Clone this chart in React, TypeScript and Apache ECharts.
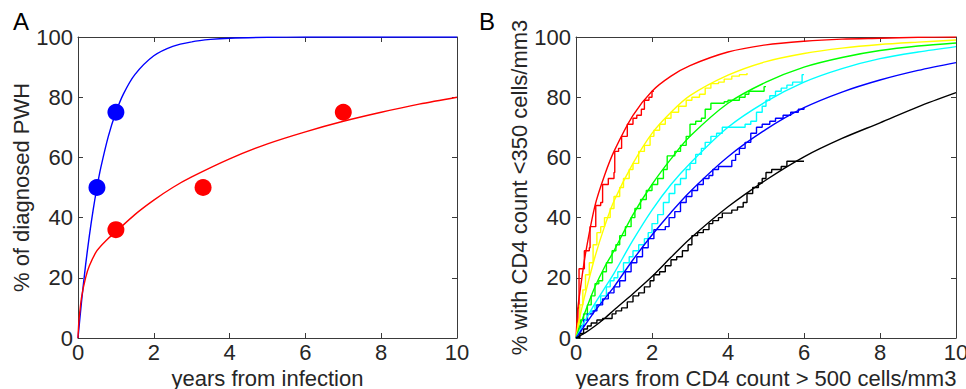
import React, { useEffect, useRef } from "react";
import * as echarts from "echarts";

// ---------- Panel A data ----------
const aBlueX = [0, 0.1, 0.2, 0.3, 0.4, 0.5, 0.6, 0.8, 1.0, 1.2, 1.5, 2, 2.5, 3, 3.5, 4, 5, 6, 8, 10];
const aBlueY = [0, 12.9, 24.2, 34.0, 42.6, 50, 56.5, 67.0, 75, 81.1, 87.5, 93.75, 96.9, 98.4, 99.2, 99.6, 99.9, 100, 100, 100];
const aRedX = [0, 0.02, 0.05, 0.1, 0.2, 0.3, 0.5, 0.75, 1, 1.5, 2, 2.5, 3, 4, 5, 6, 7, 8, 9, 10];
const aRedY = [0, 5, 9, 14, 20, 24, 29, 32.5, 35.3, 41, 45.8, 50, 53.5, 59.5, 64.5, 68.5, 72, 75, 77.7, 80];
const aBluePts: [number, number][] = [[0.5, 50], [1, 75]];
const aRedPts: [number, number][] = [[1, 36], [3.3, 50], [7, 75]];

// ---------- Panel B data ----------
const bX = [0, 0.05, 0.1, 0.25, 0.5, 0.75, 1, 1.5, 2, 2.5, 3, 4, 5, 6, 7, 8, 9, 10];
const bRed = [0, 10, 15, 28, 44, 54, 62, 74, 82, 87, 90.5, 95, 97.4, 98.6, 99.3, 99.6, 99.9, 100];
const bYellow = [0, 4, 7, 15, 27, 37, 45.5, 58, 68, 75, 80.5, 87.3, 91.8, 94.5, 96.3, 97.5, 98.3, 99];
const bGreen = [0, 2, 4, 9, 17, 23.5, 29, 41, 51, 59.5, 67, 78, 85, 90, 93.2, 95.5, 97, 98];
const bCyan = [0, 1.2, 2.5, 6, 11.5, 16.5, 21.5, 32.5, 42.5, 51, 58, 70, 78.5, 85, 89.5, 92.8, 95, 96.8];
const bBlue = [0, 0.9, 1.8, 4.5, 9, 13, 17, 26, 34.2, 41.7, 48.6, 60.2, 69.3, 76.5, 81.7, 85.7, 88.9, 91.5];
const bBlack = [0, 0.3, 0.7, 1.8, 4, 6.5, 9.3, 14.7, 20.4, 26.8, 33, 43.6, 52.5, 60.2, 66.3, 71.5, 76.8, 81.5];

const stepRed: [number, number][] = [[0,0],[0.05,10],[0.08,23],[0.2,23],[0.22,29],[0.35,30],[0.37,37],[0.5,37],[0.52,44],[0.65,45],[0.7,51],[0.85,53],[1.0,55],[1.02,62],[1.12,63],[1.2,67],[1.35,71],[1.5,73],[1.6,74],[1.72,76],[1.8,79],[1.92,80],[2.0,82],[2.05,82]];
const stepYellow: [number, number][] = [[0,0],[0.05,5],[0.1,11],[0.18,16],[0.25,21],[0.35,25],[0.45,31],[0.55,35],[0.65,37],[0.75,40],[0.9,43],[1.0,47],[1.15,50],[1.25,53],[1.4,56],[1.5,58],[1.65,62],[1.8,64],[1.95,67],[2.05,69],[2.2,71],[2.35,73],[2.5,75],[2.7,77],[2.9,79],[3.05,80],[3.25,81],[3.4,83],[3.55,84.5],[3.75,85],[3.9,86],[4.1,87],[4.3,87.5],[4.5,88]];
const stepGreen: [number, number][] = [[0,0],[0.05,3],[0.12,6],[0.2,8],[0.3,11],[0.4,14],[0.5,18],[0.6,19],[0.7,22],[0.8,25],[0.95,29],[1.05,31],[1.15,34],[1.3,37],[1.45,40],[1.55,43],[1.7,46],[1.85,49],[2.0,51],[2.15,53],[2.3,56],[2.4,60.5],[2.6,62],[2.75,64],[2.9,67],[3.0,71],[3.15,72],[3.3,73],[3.4,76],[3.55,78],[3.9,78.5],[4.0,79],[4.3,80],[4.45,81],[4.55,82],[4.95,83.5],[5.0,83.5]];
const stepCyan: [number, number][] = [[0,0],[0.05,2],[0.12,4],[0.2,6],[0.3,8],[0.4,9],[0.5,11],[0.65,14],[0.8,17],[0.9,19],[1.0,20],[1.1,22],[1.25,25],[1.4,27],[1.5,29],[1.65,31],[1.8,33],[1.9,35],[2.0,38],[2.15,41],[2.3,45],[2.45,48],[2.6,51],[2.75,53],[2.9,56],[3.0,58],[3.15,61],[3.3,63],[3.4,65],[3.55,67],[3.7,68],[3.85,70],[4.45,71],[4.6,72],[4.75,75],[4.9,77],[5.0,79],[5.1,80.5],[5.25,82],[5.4,83],[5.55,84],[5.7,85],[5.95,87.5],[6.0,87.5]];
const stepBlue: [number, number][] = [[0,0],[0.05,2],[0.12,4],[0.2,6],[0.3,8],[0.45,9],[0.55,11],[0.7,13],[0.85,15],[1.0,17],[1.15,19],[1.3,22],[1.45,25],[1.6,27],[1.75,30],[1.9,33],[2.05,36],[2.35,37],[2.45,40],[2.6,42],[2.75,45],[2.9,47],[3.05,49],[3.2,51],[3.35,53],[3.5,54],[3.6,56],[3.75,57],[4.1,59],[4.2,61],[4.3,63],[4.45,65],[4.6,68],[4.75,70],[4.9,71],[5.1,72],[5.25,73],[5.45,74],[5.65,75],[5.85,76],[6.0,76.5]];
const stepBlack: [number, number][] = [[0,0],[0.1,1.5],[0.2,3],[0.3,4],[0.4,5],[0.55,6],[0.7,6.5],[0.95,8],[1.05,9],[1.2,10],[1.35,12],[1.5,14],[1.65,15],[1.8,17],[1.95,19],[2.05,21],[2.2,22],[2.35,24],[2.5,26],[2.65,27],[2.8,29],[2.95,31],[3.05,34],[3.2,35],[3.35,36],[3.5,38],[3.6,39],[3.75,40],[3.85,41.5],[4.1,42.5],[4.25,43.5],[4.4,45],[4.5,48],[4.65,50],[4.8,51.5],[4.9,53],[5.0,55],[5.15,56],[5.4,57],[5.55,58.7],[6.0,58.7]];

const xTicks = [0, 2, 4, 6, 8, 10];
const yTicks = [0, 20, 40, 60, 80, 100];

const FONT = "'Liberation Sans', Arial, Helvetica, sans-serif";
const TXT = "#262626";
const BOX = "#3a3a3a";
const FS = 22;

const zip = (xs: number[], ys: number[]) => xs.map((x, i) => [x, ys[i]]);

export default function App() {
  const ref = useRef<HTMLDivElement>(null);
  useEffect(() => {
    if (!ref.current) return;
    const chart = echarts.init(ref.current, undefined, { renderer: "svg" });
    const xBase = (gi: number, pos: "bottom" | "top", name: string) => ({
      type: "value",
      gridIndex: gi,
      position: pos,
      min: xTicks[0],
      max: xTicks[xTicks.length - 1],
      interval: xTicks[1] - xTicks[0],
      name: pos === "bottom" ? name : "",
      nameLocation: "middle",
      nameGap: 18,
      nameTextStyle: { fontFamily: FONT, fontSize: FS, color: TXT },
      axisLine: { show: true, onZero: false, lineStyle: { color: BOX, width: 1 } },
      axisTick: { show: true, inside: true, length: 5, lineStyle: { color: BOX } },
      axisLabel: { show: pos === "bottom", fontFamily: FONT, fontSize: FS, color: TXT, margin: 3 },
      splitLine: { show: false },
    });
    const yBase = (gi: number, pos: "left" | "right", name: string) => ({
      type: "value",
      gridIndex: gi,
      position: pos,
      min: yTicks[0],
      max: yTicks[yTicks.length - 1],
      interval: yTicks[1] - yTicks[0],
      name: pos === "left" ? name : "",
      nameLocation: "middle",
      nameGap: 44,
      nameTextStyle: { fontFamily: FONT, fontSize: FS, color: TXT },
      axisLine: { show: true, onZero: false, lineStyle: { color: BOX, width: 1 } },
      axisTick: { show: true, inside: true, length: 5, lineStyle: { color: BOX } },
      axisLabel: { show: pos === "left", fontFamily: FONT, fontSize: FS, color: TXT, margin: 5 },
      splitLine: { show: false },
    });
    const curve = (xi: number, data: number[][], color: string, z = 3) => ({
      type: "line",
      xAxisIndex: xi,
      yAxisIndex: xi,
      data,
      smooth: 0.3,
      showSymbol: false,
      symbol: "none",
      z,
      lineStyle: { color, width: 1.4 },
      silent: true,
    });
    const step = (data: [number, number][], color: string) => ({
      type: "line",
      xAxisIndex: 2,
      yAxisIndex: 2,
      data,
      step: "end",
      showSymbol: false,
      symbol: "none",
      z: 2,
      lineStyle: { color, width: 1.4 },
      silent: true,
    });
    const dots = (data: [number, number][], color: string) => ({
      type: "scatter",
      xAxisIndex: 0,
      yAxisIndex: 0,
      data,
      symbolSize: 17,
      itemStyle: { color, opacity: 1 },
      z: 5,
      silent: true,
    });
    chart.setOption({
      animation: false,
      backgroundColor: "#ffffff",
      grid: [
        { left: 78, right: 509, top: 37, bottom: 51, containLabel: false, outerBoundsMode: "none" },
        { left: 576, right: 10, top: 37, bottom: 51, containLabel: false, outerBoundsMode: "none" },
      ],
      xAxis: [
        xBase(0, "bottom", "years from infection"),
        xBase(0, "top", ""),
        xBase(1, "bottom", "years from CD4 count > 500 cells/mm3"),
        xBase(1, "top", ""),
      ],
      yAxis: [
        yBase(0, "left", "% of diagnosed PWH"),
        yBase(0, "right", ""),
        yBase(1, "left", "% with CD4 count <350 cells/mm3"),
        yBase(1, "right", ""),
      ],
      graphic: [
        { type: "text", left: 13, top: 9, style: { text: "A", fontFamily: FONT, fontSize: 24, fill: "#000" } },
        { type: "text", left: 479, top: 9, style: { text: "B", fontFamily: FONT, fontSize: 24, fill: "#000" } },
      ],
      series: [
        curve(0, zip(aBlueX, aBlueY), "#0000ff"),
        curve(0, zip(aRedX, aRedY), "#ff0000"),
        dots(aBluePts, "#0000ff"),
        dots(aRedPts, "#ff0000"),
        step(stepRed, "#ff0000"),
        step(stepYellow, "#ffff00"),
        step(stepGreen, "#00ff00"),
        step(stepCyan, "#00ffff"),
        step(stepBlue, "#0000ff"),
        step(stepBlack, "#000000"),
        curve(2, zip(bX, bRed), "#ff0000"),
        curve(2, zip(bX, bYellow), "#ffff00"),
        curve(2, zip(bX, bGreen), "#00ff00"),
        curve(2, zip(bX, bCyan), "#00ffff"),
        curve(2, zip(bX, bBlue), "#0000ff"),
        curve(2, zip(bX, bBlack), "#000000"),
      ],
    });
    return () => chart.dispose();
  }, []);
  return (
    <div
      ref={ref}
      style={{ position: "fixed", left: 0, top: 0, width: 966, height: 389, background: "#fff" }}
    />
  );
}
